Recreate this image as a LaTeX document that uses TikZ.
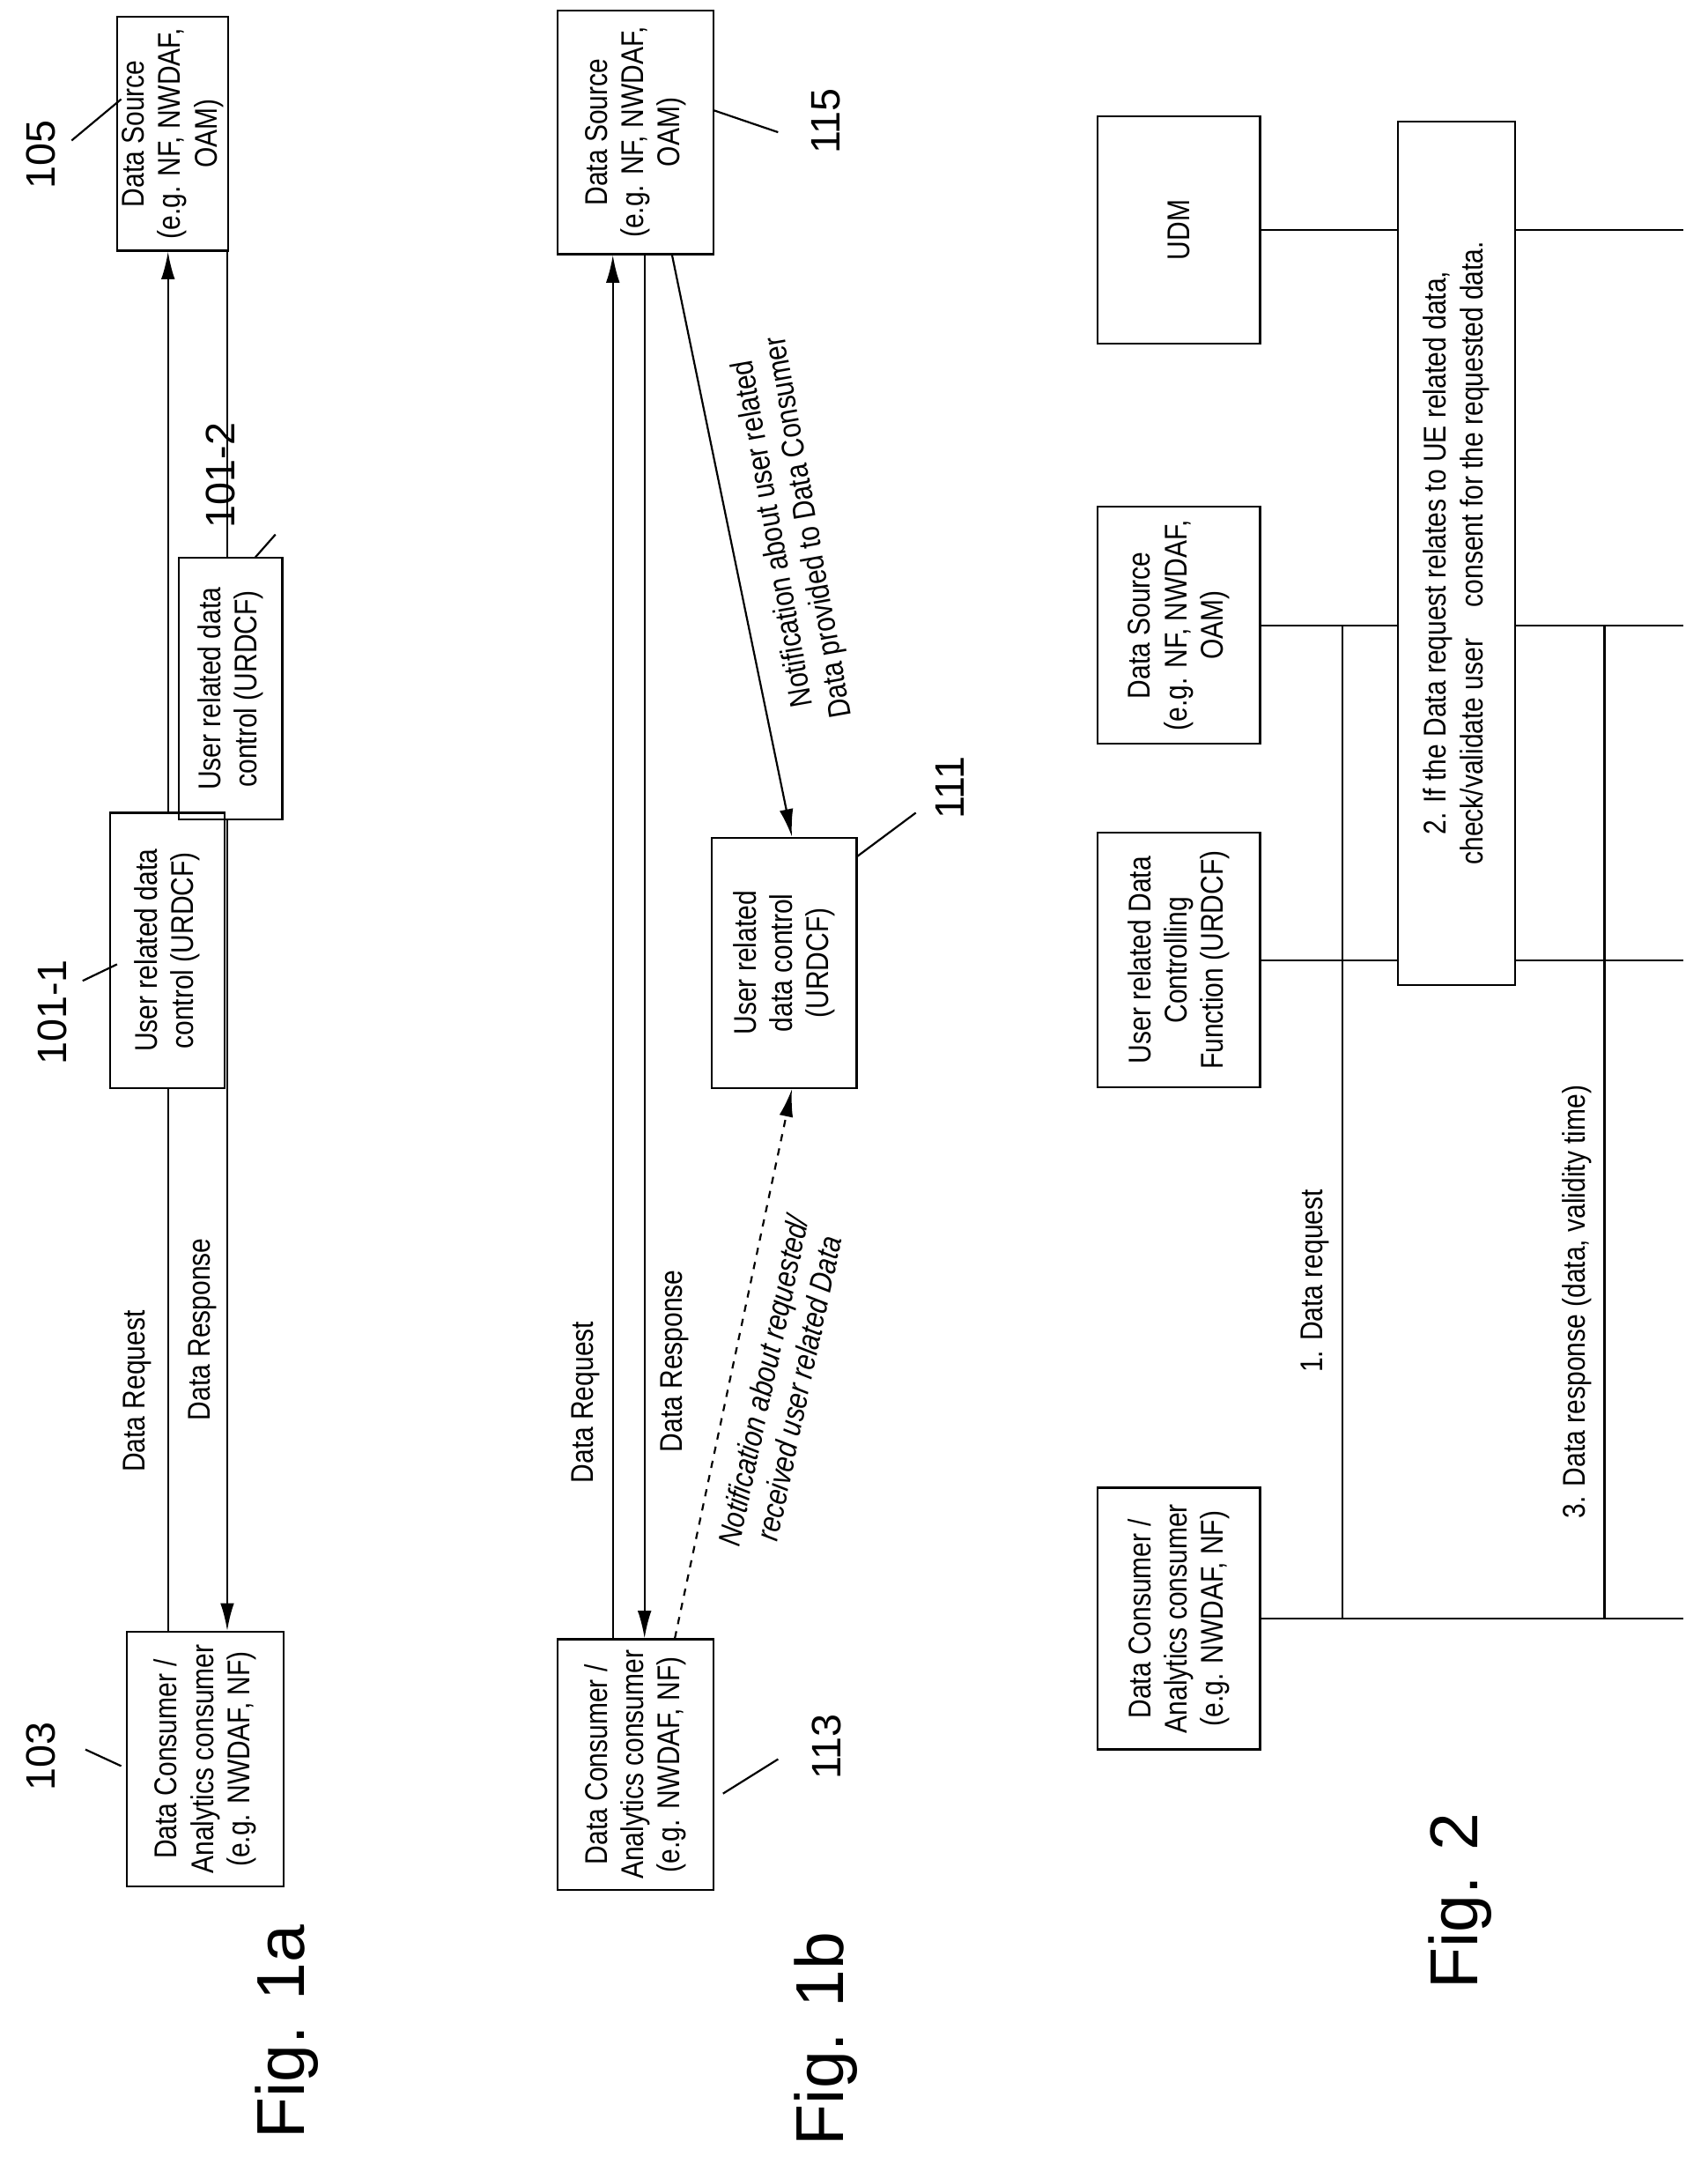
\documentclass[tikz,border=0pt]{standalone}
\usepackage{fontspec}
\setmainfont[FakeStretch=0.84]{Liberation Sans}
\newfontfamily\figfont{Liberation Sans}
\tikzset{
  box/.style={draw, thick, rotate=90, align=center, inner sep=2pt,
    font=\fontsize{13}{15}\selectfont},
  lbl/.style={rotate=90, align=center, font=\fontsize{13}{15}\selectfont},
  refnum/.style={rotate=90, font=\figfont\fontsize{17}{20}\selectfont},
  figlbl/.style={rotate=90, font=\figfont\fontsize{28}{32}\selectfont},
  msg/.style={thick, -{Latex[length=4mm,width=2mm]}},
}
\usetikzlibrary{arrows.meta}
\begin{document}
\begin{tikzpicture}[x=0.02cm,y=-0.02cm]
  \useasboundingbox (0,0) rectangle (1240,1576);

  % Fig. 1a
  \node[box, minimum width=3.4cm, minimum height=1.5cm] (ds105) at (125.5,97) {Data Source\\(e.g. NF, NWDAF,\\OAM)};
  \node[box, minimum width=3.8cm, minimum height=1.5cm] (urdcf2) at (167.5,500) {User related data\\control (URDCF)};
  \node[box, minimum width=4cm, minimum height=1.66cm] (urdcf1) at (121.5,690) {User related data\\control (URDCF)};
  \node[box, minimum width=3.7cm, minimum height=2.28cm] (dc103) at (149,1277) {Data Consumer /\\Analytics consumer\\(e.g. NWDAF, NF)};
  \coordinate (xreq) at (122,0);
  \coordinate (xres) at (165,0);
  \draw[thick] (dc103.east -| xreq) -- (urdcf1.west -| xreq);
  \draw[msg] (urdcf1.east -| xreq) -- (ds105.west -| xreq);
  \draw[thick] (ds105.west -| xres) -- (urdcf2.east -| xres);
  \draw[msg] (urdcf2.west -| xres) -- (dc103.east -| xres);
  \node[lbl] (reqa) at (100,1010) {Data Request};
  \node[lbl] (resa) at (147,965) {Data Response};
  \node[refnum] (n105) at (30,112) {105};
  \draw[thick] (52,102) -- (88,72);
  \node[refnum] (n1012) at (160,345) {101-2};
  \draw[thick] (185,405) -- (200,388);
  \node[refnum] (n1011) at (38,735) {101-1};
  \draw[thick] (60,712) -- (85,700);
  \node[refnum] (n103) at (30,1275) {103};
  \draw[thick] (62,1270) -- (88,1282);
  \node[figlbl] (fig1a) at (208,1475) {Fig. 1a};

  % Fig. 1b
  \node[box, minimum width=3.54cm, minimum height=2.26cm] (ds115) at (461.5,96) {Data Source\\(e.g. NF, NWDAF,\\OAM)};
  \node[box, minimum width=3.64cm, minimum height=2.1cm] (urdcf111) at (569.5,699) {User related\\data control\\(URDCF)};
  \node[box, minimum width=3.64cm, minimum height=2.26cm] (dc113) at (461.5,1281) {Data Consumer /\\Analytics consumer\\(e.g. NWDAF, NF)};
  \coordinate (xreqb) at (445,0);
  \coordinate (xresb) at (468,0);
  \draw[msg] (dc113.east -| xreqb) -- (ds115.west -| xreqb);
  \draw[msg] (ds115.west -| xresb) -- (dc113.east -| xresb);
  \draw[msg] (ds115.west -| 488,0) -- (urdcf111.east -| 575,0);
  \draw[msg, dashed] (dc113.east -| 490,0) -- (urdcf111.west -| 575,0);
  \node[lbl] (reqb) at (425,1018) {Data Request};
  \node[lbl] (resb) at (490,988) {Data Response};
  \node[lbl, font=\itshape\fontsize{13}{15}\selectfont, rotate=-12] (notb) at (567,1005) {Notification about requested/\\received user related Data};
  \node[lbl, rotate=10] (nota) at (575,385) {Notification about user related\\Data provided to Data Consumer};
  \node[refnum] (n115) at (600,88) {115};
  \draw[thick] (518,80) -- (565,96);
  \node[refnum] (n111) at (690,572) {111};
  \draw[thick] (622,622) -- (665,590);
  \node[refnum] (n113) at (600,1268) {113};
  \draw[thick] (525,1302) -- (565,1277);
  \node[figlbl] (fig1b) at (600,1480) {Fig. 1b};

  % Fig. 2
  \node[box, minimum width=3.8cm, minimum height=2.36cm] (dc2) at (856,1175) {Data Consumer /\\Analytics consumer\\(e.g. NWDAF, NF)};
  \node[box, minimum width=3.7cm, minimum height=2.36cm] (urdcf2b) at (856,697) {User related Data\\Controlling\\Function (URDCF)};
  \node[box, minimum width=3.44cm, minimum height=2.36cm] (ds2) at (856,454) {Data Source\\(e.g. NF, NWDAF,\\OAM)};
  \node[box, minimum width=3.3cm, minimum height=2.36cm] (udm) at (856,167) {UDM};
  \coordinate (xend) at (1222,0);
  \foreach \b in {dc2,urdcf2b,ds2,udm}
    \draw[thick] (\b.south) -- (\b.south -| xend);
  \node[box, fill=white, minimum width=12.54cm, minimum height=1.7cm] (step2) at (1057.5,401.5) {2. If the Data request relates to UE related data,\\check/validate user\quad consent for the requested data.};
  \coordinate (xm1) at (975,0);
  \coordinate (xm3) at (1165,0);
  \draw[thick] (dc2.south -| xm1) -- (ds2.south -| xm1);
  \draw[thick] (ds2.south -| xm3) -- (dc2.south -| xm3);
  \node[lbl] (m1) at (955,930) {1. Data request};
  \node[lbl] (m3) at (1145,945) {3. Data response (data, validity time)};
  \node[figlbl] (fig2) at (1060,1380) {Fig. 2};
\end{tikzpicture}
\end{document}
